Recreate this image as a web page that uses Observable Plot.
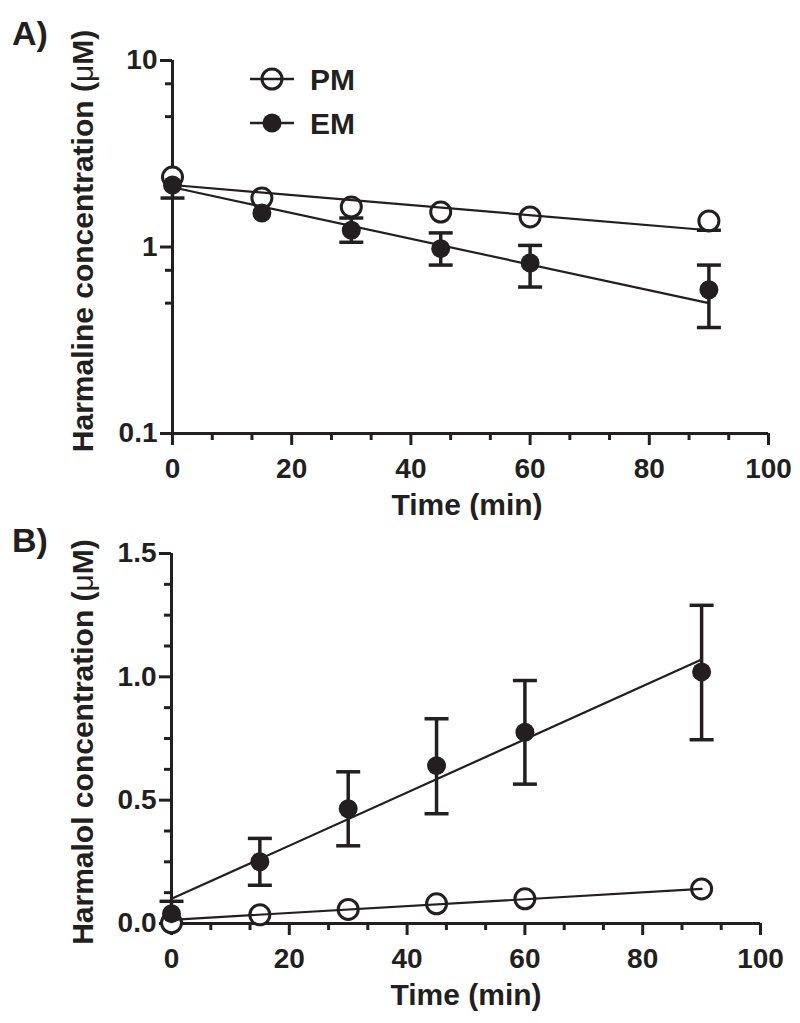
<!DOCTYPE html>
<html>
<head>
<meta charset="utf-8">
<script src="https://cdn.jsdelivr.net/npm/d3@7"></script>
<script src="https://cdn.jsdelivr.net/npm/@observablehq/plot@0.6"></script>
<style>
  html, body { margin: 0; padding: 0; background: #fff; }
  #wrap { width: 800px; }
  #wrap svg { display: block; }
  #wrap svg g[aria-label="x-axis tick label"],
  #wrap svg g[aria-label="y-axis tick label"] {
    font-size: 28px !important;
    font-weight: bold;
    font-variant: normal;
  }
</style>
</head>
<body>
<div id="wrap"></div>
<script>
// ---------- data ----------
const times = [0, 15, 30, 45, 60, 90];

// Panel A: Harmaline (log scale); null = error bar hidden behind the symbol
const harmalinePM   = [2.37, 1.83, 1.64, 1.54, 1.45, 1.38];
const harmalinePMlo = [null, null, null, null, null, 1.23];
const harmalinePMhi = [null, null, null, null, null, null];
const harmalineEM   = [2.15, 1.52, 1.23, 0.98, 0.82, 0.59];
const harmalineEMlo = [1.83, null, 1.06, 0.80, 0.61, 0.37];
const harmalineEMhi = [null, null, 1.43, 1.19, 1.02, 0.80];
const fitTimes = [0, 90];
const harmalineFitPM = [2.15, 1.23];
const harmalineFitEM = [2.09, 0.50];

// Panel B: Harmalol (linear scale)
const harmalolPM   = [0.003, 0.035, 0.057, 0.08, 0.10, 0.14];
const harmalolPMlo = [null, null, null, null, null, null];
const harmalolPMhi = [null, null, null, null, null, null];
const harmalolEM   = [0.04, 0.25, 0.465, 0.64, 0.775, 1.02];
const harmalolEMlo = [null, 0.155, 0.315, 0.445, 0.565, 0.745];
const harmalolEMhi = [0.09, 0.345, 0.615, 0.83, 0.985, 1.29];
const harmalolFitPM = [0.015, 0.14];
const harmalolFitEM = [0.10, 1.07];

// ticks
const xMajorTicks = [0, 20, 40, 60, 80, 100];
const xMinorTicks = [6.67, 13.33, 26.67, 33.33, 46.67, 53.33, 66.67, 73.33, 86.67, 93.33];
const yMajorTicksA = [0.1, 1, 10];
const yMinorTicksA = [0.5, 0.75, 5, 7.5];
const yMajorTicksB = [0, 0.5, 1.0, 1.5];
const yMinorTicksB = [0.125, 0.25, 0.375, 0.625, 0.75, 0.875, 1.125, 1.25, 1.375];

// ---------- build tables ----------
function table(group, mean, lo, hi) {
  return times.map((t, i) => ({group, t, mean: mean[i], lo: lo[i], hi: hi[i]}));
}
function fitTable(group, vals) {
  return fitTimes.map((t, i) => ({group, t, v: vals[i]}));
}
const ink = "#231f20";
const FONT = "'Liberation Sans', Arial, Helvetica, sans-serif";

// horizontal cap symbol for error bars
const capSymbol = {
  draw(context, size) {
    const w = Math.sqrt(size / Math.PI);
    context.moveTo(-w, 0);
    context.lineTo(w, 0);
  }
};

function errorMarks(data) {
  const lower = data.filter(d => d.lo != null);
  const upper = data.filter(d => d.hi != null);
  return [
    Plot.ruleX(lower, {x: "t", y1: "lo", y2: "mean", stroke: ink, strokeWidth: 3.5}),
    Plot.ruleX(upper, {x: "t", y1: "mean", y2: "hi", stroke: ink, strokeWidth: 3.5}),
    Plot.dot(lower, {x: "t", y: "lo", symbol: capSymbol, r: 12, stroke: ink, strokeWidth: 3.5, fill: "none"}),
    Plot.dot(upper, {x: "t", y: "hi", symbol: capSymbol, r: 12, stroke: ink, strokeWidth: 3.5, fill: "none"})
  ];
}

function panel({height, marginTop, marginBottom, marginLeft, marginRight, yOpts, yMajor, yMinor, yFmt, pm, em, fit, axisY0}) {
  return Plot.plot({
    width: 800, height, marginTop, marginBottom, marginLeft, marginRight,
    style: {fontFamily: FONT, fontWeight: "bold", fontSize: "28px", color: ink, background: "#fff"},
    x: {domain: [0, 100]},
    y: yOpts,
    marks: [
      Plot.axisX({ticks: xMajorTicks, tickSize: 12, tickPadding: 13, strokeWidth: 3, label: null,
                  tickFormat: d => String(d), fontSize: 28, fontWeight: "bold"}),
      Plot.axisX({ticks: xMinorTicks, tickSize: 7, strokeWidth: 3, text: null, label: null}),
      Plot.axisY({ticks: yMajor, tickSize: 12, tickPadding: 3, strokeWidth: 3, label: null,
                  tickFormat: yFmt, fontSize: 28, fontWeight: "bold"}),
      Plot.axisY({ticks: yMinor, tickSize: 7, strokeWidth: 3, text: null, label: null}),
      Plot.ruleX([0], {stroke: ink, strokeWidth: 3}),
      Plot.ruleY([axisY0], {stroke: ink, strokeWidth: 3}),
      // PM (open circles)
      ...errorMarks(pm),
      Plot.dot(pm, {x: "t", y: "mean", r: 10, stroke: ink, strokeWidth: 3, fill: "#fff"}),
      // fit lines
      Plot.line(fit, {x: "t", y: "v", z: "group", stroke: ink, strokeWidth: 2.2}),
      // EM (filled circles)
      ...errorMarks(em),
      Plot.dot(em, {x: "t", y: "mean", r: 9.5, fill: ink, stroke: "none"})
    ]
  });
}

const chartA = panel({
  height: 520, marginTop: 60, marginBottom: 87, marginLeft: 172, marginRight: 32,
  yOpts: {type: "log", domain: [0.1, 10]},
  yMajor: yMajorTicksA, yMinor: yMinorTicksA, yFmt: d => String(d),
  pm: table("PM", harmalinePM, harmalinePMlo, harmalinePMhi),
  em: table("EM", harmalineEM, harmalineEMlo, harmalineEMhi),
  fit: fitTable("PM", harmalineFitPM).concat(fitTable("EM", harmalineFitEM)),
  axisY0: 0.1
});

const chartB = panel({
  height: 503, marginTop: 33, marginBottom: 100, marginLeft: 171, marginRight: 40,
  yOpts: {domain: [0, 1.5]},
  yMajor: yMajorTicksB, yMinor: yMinorTicksB, yFmt: d3.format(".1f"),
  pm: table("PM", harmalolPM, harmalolPMlo, harmalolPMhi),
  em: table("EM", harmalolEM, harmalolEMlo, harmalolEMhi),
  fit: fitTable("PM", harmalolFitPM).concat(fitTable("EM", harmalolFitEM)),
  axisY0: 0
});

const wrap = document.getElementById("wrap");
wrap.appendChild(chartA);
wrap.appendChild(chartB);

// ---------- titles, panel letters, legend ----------
function addText(svg, {x, y, size, anchor = "start", rotate = 0}) {
  return d3.select(svg).append("text")
    .attr("transform", `translate(${x},${y}) rotate(${rotate})`)
    .attr("text-anchor", anchor)
    .attr("font-family", FONT)
    .attr("font-weight", "bold")
    .attr("font-size", size)
    .attr("fill", ink);
}
function addYTitle(svg, x, y, main) {
  const t = addText(svg, {x, y, size: 30, anchor: "middle", rotate: -90});
  t.append("tspan").text(main + " (");
  t.append("tspan").attr("font-weight", "normal").text("μ");
  t.append("tspan").text("M)");
}

addText(chartA, {x: 12, y: 45, size: 34}).text("A)");
addText(chartB, {x: 12, y: 32, size: 34}).text("B)");
addYTitle(chartA, 93, 241, "Harmaline concentration");
addYTitle(chartB, 93, 222, "Harmalol concentration");
addText(chartA, {x: 467, y: 515, size: 30, anchor: "middle"}).text("Time (min)");
addText(chartB, {x: 466, y: 485, size: 30, anchor: "middle"}).text("Time (min)");

// legend (panel A)
const legendItems = [
  {label: "PM", y: 79, filled: false},
  {label: "EM", y: 123, filled: true}
];
const lg = d3.select(chartA).append("g");
legendItems.forEach(it => {
  if (it.filled) {
    lg.append("line").attr("x1", 250).attr("x2", 294).attr("y1", it.y).attr("y2", it.y)
      .attr("stroke", ink).attr("stroke-width", 2.5);
    lg.append("circle").attr("cx", 272).attr("cy", it.y).attr("r", 9.5).attr("fill", ink);
  } else {
    lg.append("circle").attr("cx", 272).attr("cy", it.y).attr("r", 10)
      .attr("fill", "#fff").attr("stroke", ink).attr("stroke-width", 3);
    lg.append("line").attr("x1", 250).attr("x2", 294).attr("y1", it.y).attr("y2", it.y)
      .attr("stroke", ink).attr("stroke-width", 2.5);
  }
  lg.append("text").attr("x", 310).attr("y", it.y + 11)
    .attr("text-anchor", "start")
    .attr("font-family", FONT).attr("font-weight", "bold").attr("font-size", 30)
    .attr("fill", ink).text(it.label);
});
</script>
</body>
</html>
